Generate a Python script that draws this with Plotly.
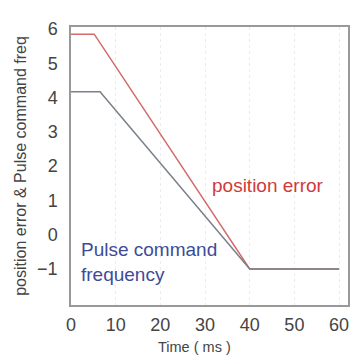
import plotly.graph_objects as go

# Data
time_pos_err = [0, 5.2, 40, 60]
pos_err = [5.85, 5.85, -1, -1]
time_pulse = [0, 6.5, 40, 60]
pulse_freq = [4.17, 4.17, -1, -1]
x_ticks = [0, 10, 20, 30, 40, 50, 60]
y_ticks = [-1, 0, 1, 2, 3, 4, 5, 6]

fig = go.Figure()
fig.add_trace(go.Scatter(x=time_pos_err, y=pos_err, mode="lines",
                         line=dict(color="#d46a6a", width=1.5), showlegend=False))
fig.add_trace(go.Scatter(x=time_pulse, y=pulse_freq, mode="lines",
                         line=dict(color="#7a808a", width=1.5), showlegend=False))

fig.add_annotation(x=44.0, y=1.44, text="position error", showarrow=False,
                   font=dict(color="#d03a3a", size=19), xanchor="center", yanchor="middle")
fig.add_annotation(x=1.9, y=-0.8, text="Pulse command<br>frequency", showarrow=False, align="left",
                   font=dict(color="#3d4c98", size=19), xanchor="left", yanchor="middle")
fig.add_annotation(xref="paper", yref="paper", x=0.447, y=-0.15, text="Time ( ms )",
                   showarrow=False, font=dict(size=14.5, color="#444"),
                   xanchor="center", yanchor="middle")

fig.update_layout(
    width=353, height=347,
    margin=dict(l=60, r=11, t=17, b=50),
    paper_bgcolor="white", plot_bgcolor="white",
    font=dict(family="Liberation Sans, Arial, sans-serif", color="#444"),
    xaxis=dict(range=[0, 62], tickvals=x_ticks, showgrid=True, gridcolor="#ececec",
               griddash="dot", zeroline=False, showline=True, linecolor="#999", linewidth=1.5,
               mirror=True, ticks="outside", ticklen=3, tickcolor="rgba(0,0,0,0)",
               tickfont=dict(size=18, color="#444")),
    yaxis=dict(range=[-2.05, 6.06], tickvals=y_ticks, showgrid=False, zeroline=False,
               showline=True, linecolor="#999", linewidth=1.5, mirror=True,
               ticks="outside", ticklen=8, tickcolor="rgba(0,0,0,0)",
               tickfont=dict(size=18, color="#444"),
               title=dict(text="position error & Pulse command freq", font=dict(size=16, color="#444"),
                          standoff=7)),
)

fig.write_html("out.html")
